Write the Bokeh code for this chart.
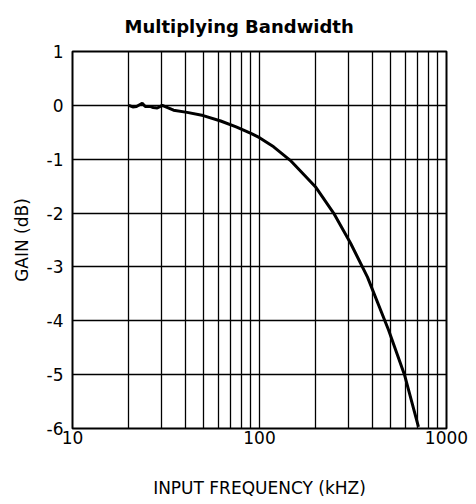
from bokeh.plotting import figure
from bokeh.models import FixedTicker, Title
from bokeh.embed import file_html
from bokeh.resources import INLINE

freq_khz = [20, 21, 22, 23.6, 24.5, 26, 27, 28.4, 30.2, 34.7, 41, 50, 62, 75, 90, 100,
            119, 146, 170, 199, 249, 307, 378, 490, 596, 708]
gain_db = [0, -0.03, -0.02, 0.04, -0.02, -0.02, -0.04, -0.05, 0, -0.09, -0.13, -0.19,
           -0.29, -0.40, -0.52, -0.60, -0.77, -1.02, -1.26, -1.51, -2.0, -2.56, -3.19,
           -4.17, -5.0, -5.97]

x_major = [10, 100, 1000]
x_labels = {10: "10", 100: "100", 1000: "1000"}
x_grid = [20, 30, 40, 50, 60, 70, 80, 90, 100, 200, 300, 400, 500, 600, 700, 800, 900]
y_ticks = [-6, -5, -4, -3, -2, -1, 0, 1]
y_labels = {-6: "-6", -5: "-5", -4: "-4", -3: "-3", -2: "-2", -1: "-1", 0: "0", 1: "1"}

FONT = "DejaVu Sans"

p = figure(width=468, height=500, x_axis_type="log", x_range=(10, 1000), y_range=(-6, 1),
           output_backend="svg", toolbar_location=None,
           min_border_left=72, min_border_right=22, min_border_top=51, min_border_bottom=72)
p.title = Title(text="Multiplying Bandwidth", align="left", offset=52, standoff=26,
                vertical_align="top",
                text_font=FONT, text_font_size="18px", text_font_style="bold",
                text_color="black")

p.line(freq_khz, gain_db, line_color="black", line_width=3)

p.xaxis.ticker = FixedTicker(ticks=x_major)
p.xaxis.major_label_overrides = x_labels
p.yaxis.ticker = FixedTicker(ticks=y_ticks)
p.yaxis.major_label_overrides = y_labels
p.xgrid.ticker = FixedTicker(ticks=x_grid)
p.ygrid.ticker = FixedTicker(ticks=y_ticks)

for g in (p.xgrid, p.ygrid):
    g.grid_line_color = "black"
    g.grid_line_alpha = 1.0
    g.grid_line_width = 1.3

for ax in (p.xaxis, p.yaxis):
    ax.axis_line_color = None
    ax.major_tick_line_color = None
    ax.minor_tick_line_color = None
    ax.major_tick_in = 0
    ax.major_tick_out = 0
    ax.major_label_text_font = FONT
    ax.major_label_text_font_size = "17px"
    ax.major_label_text_color = "black"
    ax.axis_label_text_font = FONT
    ax.axis_label_text_font_size = "17px"
    ax.axis_label_text_font_style = "normal"
    ax.axis_label_text_color = "black"

p.xaxis.axis_label = "INPUT FREQUENCY (kHZ)"
p.yaxis.axis_label = "GAIN (dB)"
p.xaxis.major_label_standoff = 2
p.yaxis.major_label_standoff = 9
p.xaxis.axis_label_standoff = 31
p.yaxis.axis_label_standoff = 12

p.outline_line_color = "black"
p.outline_line_width = 2
p.outline_line_alpha = 1.0

open("out.html", "w").write(file_html(p, INLINE))
